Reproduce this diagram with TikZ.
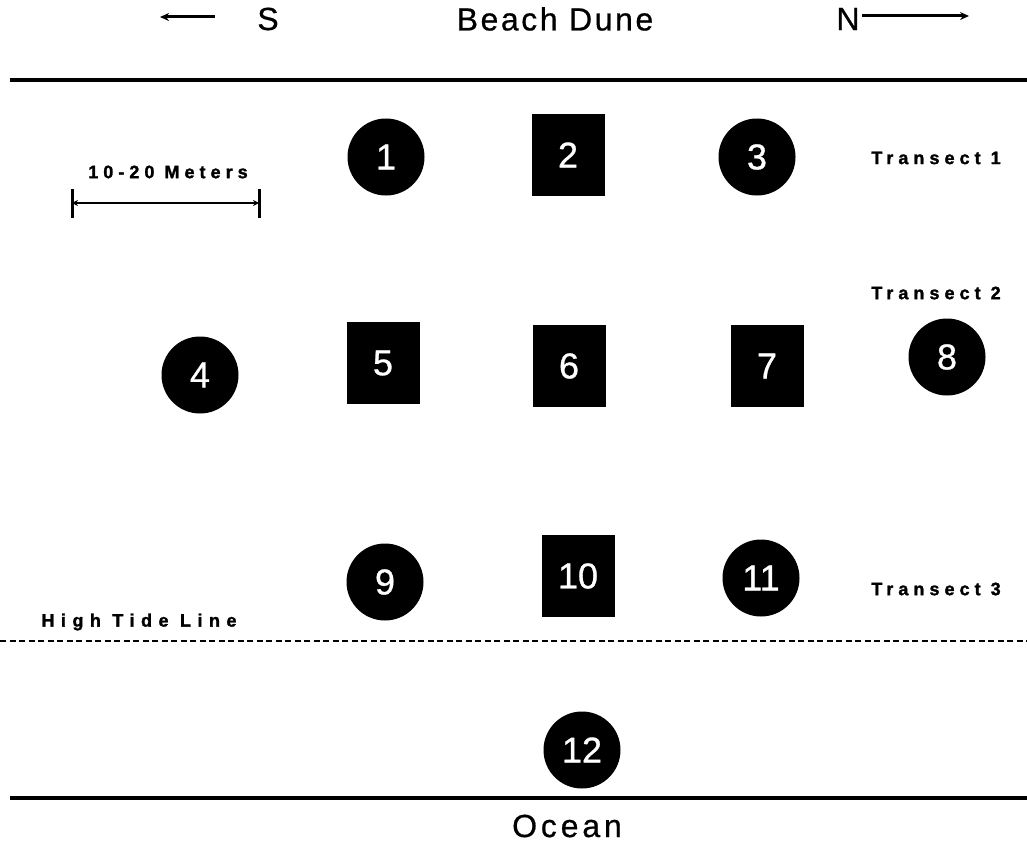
\documentclass[tikz,border=0pt]{standalone}
\usepackage{fontspec}
\setmainfont{Liberation Sans}
\newfontfamily\spacedfont{Liberation Sans Bold}[LetterSpace=28,FakeBold=1.5]
\newfontfamily\bigspaced{Liberation Sans}[LetterSpace=8,FakeBold=0.6]
\newfontfamily\numfont{Liberation Sans}[FakeBold=0.8]
\usetikzlibrary{arrows.meta}
\begin{document}
\begin{tikzpicture}[x=1pt,y=-1pt,
  sitecirc/.style={circle,fill=black,minimum size=77pt,inner sep=0pt,text=white,font=\numfont\fontsize{36}{40}\selectfont},
  sitesq/.style={rectangle,fill=black,minimum width=73pt,minimum height=82pt,inner sep=0pt,text=white,font=\numfont\fontsize{36}{40}\selectfont},
  bigtext/.style={font=\bigspaced\fontsize{32}{38}\selectfont,inner sep=0pt},
  smalltext/.style={font=\spacedfont\fontsize{18}{22}\selectfont,inner sep=0pt},
  shoreline/.style={line width=3.2pt},
  dirarrow/.style={line width=3pt,-{Stealth[length=9pt,width=8pt]}}]
\useasboundingbox (0,0) rectangle (1027,856);
% header
\node[bigtext] (S) at (268,19) {S};
\node[bigtext] (dune) at (555,19) {Beach Dune};
\node[bigtext] (N) at (848,19) {N};
\coordinate (Sa) at (215,17);
\coordinate (Sb) at (160,17);
\coordinate (Na) at (862,16);
\coordinate (Nb) at (969,16);
\draw[dirarrow] (Sa) -- (Sb);
\draw[dirarrow] (Na) -- (Nb);
% lines
\coordinate (t1) at (10,80);
\coordinate (t2) at (1027,80);
\draw[shoreline] (t1) -- (t2);
\coordinate (b1) at (10,798);
\coordinate (b2) at (1027,798);
\draw[shoreline] (b1) -- (b2);
\coordinate (d1) at (0,641);
\coordinate (d2) at (1027,641);
\draw[line width=1.5pt,dash pattern=on 6pt off 3.5pt] (d1) -- (d2);
\node[bigtext,font=\bigspaced\fontsize{32}{38}\selectfont\addfontfeature{LetterSpace=12}] (ocean) at (567,826) {Ocean};
\node[smalltext,font=\spacedfont\fontsize{18}{22}\selectfont\addfontfeature{LetterSpace=36}] (hightide) at (139,622) {High Tide Line};
% scale bar
\node[smalltext] (scale) at (168,172) {10-20 Meters};
\coordinate (sL) at (72,203);
\coordinate (sR) at (259,203);
\draw[line width=3pt] (72,189) -- (72,218);
\draw[line width=3pt] (259,189) -- (259,218);
\draw[line width=2.6pt,{Stealth[length=6pt,width=6pt]}-{Stealth[length=6pt,width=6pt]}] (sL) -- (sR);
% transect labels
\node[smalltext] (tr1) at (936,158) {Transect 1};
\node[smalltext] (tr2) at (936,293) {Transect 2};
\node[smalltext] (tr3) at (936,589) {Transect 3};
% sites
\node[sitecirc] (s1) at (386,157) {1};
\node[sitesq] (s2) at (568,155) {2};
\node[sitecirc] (s3) at (757,157) {3};
\node[sitecirc] (s4) at (200,375) {4};
\node[sitesq] (s5) at (383,363) {5};
\node[sitesq] (s6) at (569,366) {6};
\node[sitesq] (s7) at (767,366) {7};
\node[sitecirc] (s8) at (947,357) {8};
\node[sitecirc] (s9) at (385,582) {9};
\node[sitesq] (s10) at (578,576) {10};
\node[sitecirc] (s11) at (761,578) {11};
\node[sitecirc] (s12) at (582,750) {12};
\end{tikzpicture}
\end{document}
